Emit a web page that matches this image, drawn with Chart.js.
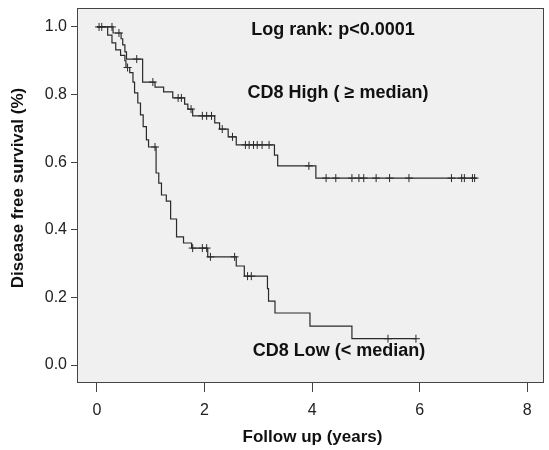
<!DOCTYPE html>
<html lang="en">
<head>
<meta charset="UTF-8">
<title>Disease free survival by CD8</title>
<script src="https://cdn.jsdelivr.net/npm/chart.js@4"></script>
<style>
  html, body { margin: 0; padding: 0; background: #ffffff; }
  #wrap { width: 549px; height: 450px; }
</style>
</head>
<body>
<div id="wrap"><canvas id="chart" width="549" height="450"></canvas></div>
<script>
// event times (years) and survival after each event
const highTimes = [0, 0.30, 0.45, 0.48, 0.52, 0.55, 0.85, 1.08, 1.24, 1.41, 1.63, 1.69, 1.78, 2.19, 2.28, 2.44, 2.59, 3.30, 3.36, 4.07, 7.06];
const highSurv  = [1.0, 0.982, 0.965, 0.947, 0.926, 0.905, 0.837, 0.822, 0.808, 0.790, 0.772, 0.757, 0.737, 0.716, 0.698, 0.675, 0.651, 0.621, 0.589, 0.553, 0.553];
const highCensored = [0.04, 0.09, 0.28, 0.41, 0.74, 1.04, 1.51, 1.57, 1.75, 1.96, 2.04, 2.13, 2.33, 2.52, 2.76, 2.83, 2.91, 2.98, 3.07, 3.20, 3.94,
  4.26, 4.44, 4.74, 4.87, 4.96, 5.19, 5.44, 5.80, 6.59, 6.78, 6.83, 6.98, 7.02];

const lowTimes = [0, 0.20, 0.28, 0.35, 0.44, 0.52, 0.54, 0.61, 0.67, 0.70, 0.76, 0.81, 0.86, 0.92, 0.96, 1.10, 1.15, 1.20, 1.29, 1.37, 1.48, 1.61, 1.76, 2.06, 2.59, 2.74, 3.17, 3.19, 3.31, 3.96, 4.74, 5.94];
const lowSurv  = [1.0, 0.976, 0.953, 0.932, 0.916, 0.900, 0.880, 0.865, 0.837, 0.805, 0.775, 0.740, 0.705, 0.666, 0.645, 0.568, 0.538, 0.503, 0.485, 0.432, 0.379, 0.361, 0.346, 0.320, 0.293, 0.263, 0.226, 0.189, 0.154, 0.115, 0.078, 0.078];
const lowCensored = [0.57, 1.08, 1.78, 1.96, 2.04, 2.11, 2.56, 2.80, 2.87, 5.41, 5.93];

const xTicks = [0, 2, 4, 6, 8];
const yTicks = [0, 0.2, 0.4, 0.6, 0.8, 1.0];

const groupLabels = ['CD8 High ( \u2265 median)', 'CD8 Low (< median)'];
const pValueText = 'Log rank: p<0.0001';
const xTitle = 'Follow up (years)';
const yTitle = 'Disease free survival (%)';

// survival level of a step curve at time t
function levelAt(times, surv, t) {
    let s = surv[0];
    for (let i = 0; i < times.length; i++) {
        if (times[i] <= t) s = surv[i];
    }
    return s;
}

function curve(times, surv) {
    return times.map((t, i) => ({ x: t, y: surv[i] }));
}

function marks(times, surv, cens) {
    return cens.map(t => ({ x: t, y: levelAt(times, surv, t) }));
}

const lineColor = '#2a2a2a';
const fontFamily = '"Liberation Sans", Arial, sans-serif';

const boxPlugin = {
    id: 'box',
    beforeDraw(chart) {
        const { ctx, chartArea: a } = chart;
        ctx.save();
        ctx.fillStyle = '#f0f0f0';
        ctx.fillRect(a.left, a.top, a.right - a.left, a.bottom - a.top);
        ctx.restore();
    },
    afterDraw(chart) {
        const { ctx, chartArea: a } = chart;
        ctx.save();
        ctx.strokeStyle = '#444';
        ctx.lineWidth = 1;
        ctx.strokeRect(a.left + 0.5, a.top + 0.5, a.right - a.left - 1, a.bottom - a.top - 1);

        ctx.fillStyle = '#111';
        ctx.font = 'bold 18px ' + fontFamily;
        ctx.textAlign = 'center';
        ctx.textBaseline = 'middle';
        ctx.fillText(pValueText, a.left + 256, a.top + 22);
        ctx.fillText(groupLabels[0], a.left + 261, a.top + 85);
        ctx.fillText(groupLabels[1], a.left + 262, a.top + 343);

        ctx.font = 'bold 17px ' + fontFamily;
        ctx.fillText(xTitle, (a.left + a.right) / 2 + 2, 437);
        ctx.translate(18, 188);
        ctx.rotate(-Math.PI / 2);
        ctx.fillText(yTitle, 0, 0);
        ctx.restore();
    }
};

new Chart(document.getElementById('chart'), {
    type: 'scatter',
    data: {
        datasets: [
            {
                data: curve(highTimes, highSurv),
                showLine: true,
                stepped: 'before',
                borderColor: lineColor,
                borderWidth: 1.2,
                pointRadius: 0
            },
            {
                data: curve(lowTimes, lowSurv),
                showLine: true,
                stepped: 'before',
                borderColor: lineColor,
                borderWidth: 1.2,
                pointRadius: 0
            },
            {
                data: marks(highTimes, highSurv, highCensored),
                pointStyle: 'cross',
                pointRadius: 4,
                borderColor: lineColor,
                borderWidth: 1
            },
            {
                data: marks(lowTimes, lowSurv, lowCensored),
                pointStyle: 'cross',
                pointRadius: 4,
                borderColor: lineColor,
                borderWidth: 1
            }
        ]
    },
    options: {
        responsive: false,
        animation: false,
        layout: { padding: { top: 8, right: 0, left: 0, bottom: 0 } },
        plugins: {
            legend: { display: false },
            tooltip: { enabled: false }
        },
        scales: {
            x: {
                type: 'linear',
                min: -0.37,
                max: 8.31,
                afterFit(scale) {
                    scale.height = 67;
                    scale.paddingLeft = 0;
                    scale.paddingRight = 0;
                },
                afterBuildTicks(scale) { scale.ticks = xTicks.map(v => ({ value: v })); },
                grid: { drawOnChartArea: false, tickLength: 9, color: '#444' },
                border: { display: false },
                ticks: {
                    color: '#222',
                    padding: 9,
                    maxRotation: 0,
                    font: { family: fontFamily, size: 16 },
                    callback: v => String(v)
                }
            },
            y: {
                min: -0.053,
                max: 1.056,
                afterFit(scale) {
                    scale.width = 77;
                    scale.paddingTop = 0;
                    scale.paddingBottom = 0;
                },
                afterBuildTicks(scale) { scale.ticks = yTicks.map(v => ({ value: v })); },
                grid: { drawOnChartArea: false, tickLength: 6, color: '#444' },
                border: { display: false },
                ticks: {
                    color: '#222',
                    padding: 4,
                    font: { family: fontFamily, size: 16 },
                    callback: v => v.toFixed(1)
                }
            }
        }
    },
    plugins: [boxPlugin]
});
</script>
</body>
</html>
